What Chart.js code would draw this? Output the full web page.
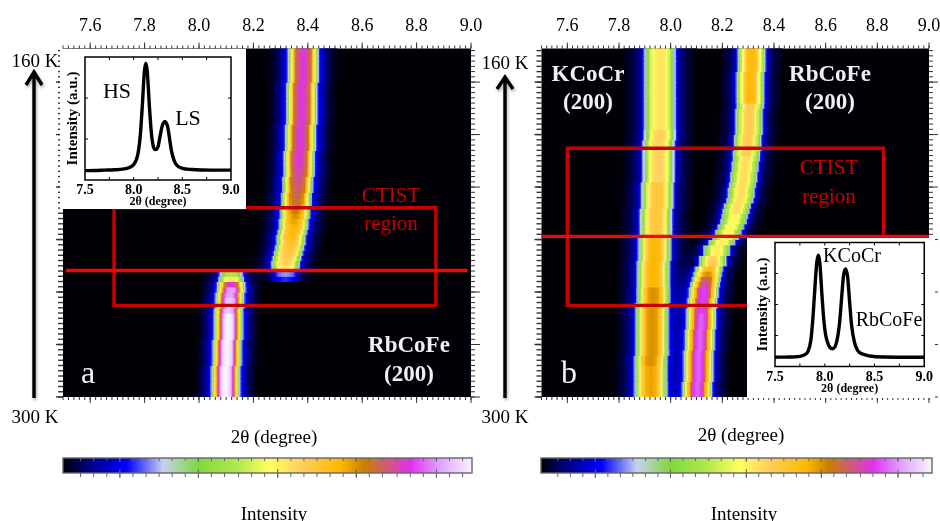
<!DOCTYPE html>
<html>
<head>
<meta charset="utf-8">
<title>RbCoFe / KCoCr (200)</title>
<script src="https://cdn.jsdelivr.net/npm/chart.js@4"></script>
<style>
html, body { margin: 0; padding: 0; background: #fff; overflow: hidden; }
#page { position: relative; width: 940px; height: 521px; overflow: hidden; filter: blur(0.45px); }
canvas { position: absolute; display: block; }
.inset { background: #fff; z-index: 2; }
svg { position: absolute; left: 0; top: 0; z-index: 3; }
.t { position: absolute; transform: translate(-50%, -50%); white-space: nowrap; z-index: 4; line-height: 1;
     font-family: "Liberation Serif", serif; color: #000; }
.w { color: #f4f4f4; }
.wb { color: #f0f0f0; font-weight: bold; font-size: 23px; }
.r { color: #c80000; font-size: 21px; }
.k { font-size: 19px; }
</style>
</head>
<body>
<div id="page">
  <canvas id="panelA" class="heat" width="500" height="521" style="left:0;top:0"></canvas>
  <canvas id="panelB" class="heat" width="460" height="521" style="left:500px;top:0"></canvas>
  <canvas id="insetA" class="inset" width="186" height="160" style="left:60px;top:49px"></canvas>
  <canvas id="insetB" class="inset" width="188" height="160" style="left:747px;top:237.5px"></canvas>
  <canvas id="barA" width="500" height="40" style="left:0;top:448px"></canvas>
  <canvas id="barB" width="440" height="40" style="left:500px;top:448px"></canvas>

  <svg width="940" height="521" fill="none" stroke="#000" stroke-width="3.4" style="filter:drop-shadow(1px 2px 1.5px rgba(0,0,0,.35))">
    <path d="M34 398V72M26 85L34 72L42 85"/>
    <path d="M505 398V77M497 89L505 77L513 89"/>
  </svg>

  <div class="t k" style="left:35px;top:60px">160 K</div>
  <div class="t k" style="left:35px;top:416px">300 K</div>
  <div class="t k" style="left:505px;top:62px">160 K</div>
  <div class="t k" style="left:505px;top:416px">300 K</div>
  <div class="t k" style="left:274px;top:436px">2θ (degree)</div>
  <div class="t k" style="left:741px;top:434px">2θ (degree)</div>
  <div class="t k" style="left:274px;top:513px">Intensity</div>
  <div class="t k" style="left:744px;top:513px">Intensity</div>

  <div class="t w" style="left:88px;top:372px;font-size:32px">a</div>
  <div class="t w" style="left:569px;top:372px;font-size:32px">b</div>
  <div class="t wb" style="left:409px;top:344px">RbCoFe</div>
  <div class="t wb" style="left:409px;top:373px">(200)</div>
  <div class="t wb" style="left:588px;top:73px">KCoCr</div>
  <div class="t wb" style="left:588px;top:101px">(200)</div>
  <div class="t wb" style="left:830px;top:73px">RbCoFe</div>
  <div class="t wb" style="left:830px;top:101px">(200)</div>
  <div class="t r" style="left:391px;top:195px">CTIST</div>
  <div class="t r" style="left:391px;top:223px">region</div>
  <div class="t r" style="left:829px;top:167px">CTIST</div>
  <div class="t r" style="left:829px;top:196px">region</div>

  <div class="t" style="left:117px;top:91px;font-size:22px">HS</div>
  <div class="t" style="left:188px;top:118px;font-size:22px">LS</div>
  <div class="t" style="left:852px;top:255px;font-size:20px">KCoCr</div>
  <div class="t" style="left:889px;top:319px;font-size:20px">RbCoFe</div>
</div>

<script>
const serif = '"Liberation Serif", serif';

// top axis of the two maps
const thetaLabels = [7.6, 7.8, 8.0, 8.2, 8.4, 8.6, 8.8, 9.0];

// scan rows count up from the 300 K end, one row per scan
const rowTop = 66.4;
const binWidth = 0.005;

// intensity against distance from the peak, one entry per bin
const lineShape = [1, .995, .985, .97, .93, .86, .76, .66, .56, .42, .29, .20, .15, .12, .095, .075, .06, .05, .04, .03, .02, .012, .006];

// panel a, LS branch, rows 0..23
const aLowCenters = [8.100, 8.100, 8.100, 8.102, 8.102, 8.102, 8.104, 8.104, 8.105, 8.106, 8.106, 8.108,
  8.108, 8.110, 8.110, 8.112, 8.112, 8.114, 8.115, 8.116, 8.118, 8.118, 8.120, 8.120];
const aLowLevels = [1, 1, 1, 1, 1, 1, 1, 1, 1, 1, 1, 1, 1, 1, 1, 1, .96, .96, .96, .93, .93, .84, .55, .42];

// panel a, HS branch, rows 22..66
const aHighFirstRow = 22;
const aHighCenters = [8.318, 8.318, 8.318, 8.322, 8.326, 8.330, 8.335, 8.338, 8.342, 8.345, 8.348, 8.351, 8.354,
  8.356, 8.358, 8.360, 8.362, 8.364, 8.366, 8.367, 8.368, 8.369, 8.370, 8.371, 8.372, 8.373, 8.374, 8.375, 8.376,
  8.377, 8.378, 8.379, 8.380, 8.380, 8.381, 8.381, 8.382, 8.382, 8.383, 8.383, 8.384, 8.384, 8.384, 8.385, 8.385];
const aHighLevels = [.17, .22, .55, .58, .60, .62, .63, .64, .66, .67, .68, .70, .72, .74, .76, .77, .78, .79, .80,
  .81, .82, .83, .84, .84, .84, .84, .84, .84, .84, .84, .84, .84, .84, .84, .84, .84, .84, .84, .84, .84, .84, .84, .84, .84, .84];

// panel b, KCoCr peak, rows 0..66
const bKCenters = [7.924, 7.924, 7.925, 7.925, 7.926, 7.926, 7.927, 7.927, 7.928, 7.928,
  7.929, 7.929, 7.930, 7.930, 7.931, 7.931, 7.932, 7.932, 7.933, 7.933,
  7.934, 7.934, 7.935, 7.935, 7.936, 7.937, 7.938, 7.939, 7.940, 7.941,
  7.942, 7.943, 7.944, 7.945, 7.946, 7.947, 7.948, 7.949, 7.950, 7.951,
  7.952, 7.953, 7.954, 7.955, 7.955, 7.956, 7.956, 7.957, 7.957, 7.958,
  7.958, 7.958, 7.959, 7.959, 7.959, 7.959, 7.960, 7.960, 7.960, 7.960, 7.960, 7.960, 7.960, 7.960, 7.960, 7.960, 7.960];
const bKLevels = [.70, .70, .70, .70, .70, .70, .72, .72, .72, .72, .72, .72, .72, .72, .72, .72, .72, .72, .72, .72, .72,
  .68, .68, .68, .68, .68, .68, .68, .68, .68, .68,
  .62, .62, .62, .62, .62, .62, .62, .62, .62, .62,
  .58, .58, .58, .58, .58, .58, .58, .58, .58, .58,
  .55, .55, .55, .55, .55, .55, .55, .55, .55, .55, .55, .55, .55, .55, .55, .55];

// panel b, RbCoFe peak, rows 0..66
const bRbCenters = [8.106, 8.106, 8.107, 8.108, 8.109, 8.110, 8.110, 8.111, 8.112, 8.113,
  8.114, 8.115, 8.116, 8.118, 8.119, 8.121, 8.122, 8.124, 8.126, 8.128,
  8.131, 8.134, 8.138, 8.144, 8.152, 8.163, 8.163, 8.178, 8.178, 8.200,
  8.215, 8.225, 8.235, 8.243, 8.250, 8.256, 8.262, 8.268, 8.273, 8.277,
  8.281, 8.284, 8.287, 8.290, 8.292, 8.294, 8.296, 8.298, 8.300, 8.302,
  8.303, 8.304, 8.305, 8.306, 8.307, 8.308, 8.309, 8.310, 8.310, 8.311, 8.312, 8.312, 8.313, 8.313, 8.314, 8.314, 8.314];
const bRbLevels = [.88, .88, .88, .88, .88, .88, .88, .88, .88, .88, .88, .88, .88, .88, .88, .88,
  .86, .86, .86, .86, .86, .82, .78, .72, .66, .60, .58, .54, .54, .54,
  .52, .52, .52, .52, .52, .56, .56, .56, .56, .56, .56, .56, .56, .56, .56, .56,
  .60, .60, .60, .60, .60, .60, .60, .60, .60, .60,
  .67, .67, .67, .67, .67, .67, .67, .67, .67, .67, .67];

// inset curves
const insetAx = [7.5, 7.6, 7.7, 7.8, 7.9, 7.95, 8.0, 8.03, 8.05, 8.07, 8.09, 8.11, 8.125, 8.14, 8.16, 8.18, 8.20, 8.225,
  8.25, 8.27, 8.29, 8.32, 8.35, 8.37, 8.39, 8.42, 8.45, 8.5, 8.6, 8.8, 9.0];
const insetAy = [.076, .077, .08, .083, .09, .10, .125, .17, .24, .38, .62, .88, .95, .88, .62, .40, .28, .247,
  .27, .35, .43, .477, .43, .33, .23, .15, .115, .095, .085, .08, .08];
const insetBx = [7.5, 7.6, 7.7, 7.75, 7.8, 7.83, 7.86, 7.88, 7.9, 7.92, 7.936, 7.95, 7.97, 7.99, 8.01, 8.04, 8.08,
  8.12, 8.15, 8.17, 8.19, 8.21, 8.23, 8.25, 8.27, 8.3, 8.33, 8.38, 8.45, 8.6, 9.0];
const insetBy = [.075, .076, .078, .082, .095, .12, .21, .38, .62, .84, .897, .84, .60, .38, .25, .17, .143,
  .20, .36, .56, .74, .787, .72, .52, .33, .19, .13, .10, .085, .077, .075];
const insetTicks = [7.5, 8.0, 8.5, 9.0];

// colour scale
const mapStops = [0, .07, .155, .245, .33, .43, .506, .58, .678, .735, .796, .849, .92, 1];
const mapColors = ['#000008', '#00008c', '#0000ff', '#c8d0f0', '#80d840', '#b4e850', '#ffff60', '#ffd060', '#ffb800',
  '#c88000', '#d05880', '#e030f0', '#e0a0ff', '#faf4ff'];
const barMajor = [.139, .331, .525, .717, .913];

function hexRgb(h) {
  return [1, 3, 5].map(i => parseInt(h.substr(i, 2), 16));
}

function mapColor(v) {
  if (v >= 1) return mapColors[mapColors.length - 1];
  let i = 0;
  while (i < mapStops.length - 2 && v > mapStops[i + 1]) i++;
  const f = (v - mapStops[i]) / (mapStops[i + 1] - mapStops[i]);
  const a = hexRgb(mapColors[i]), b = hexRgb(mapColors[i + 1]);
  return 'rgb(' + a.map((c, k) => Math.round(c + (b[k] - c) * f)).join(',') + ')';
}

// tick positions only
function steps(from, to, by) {
  const out = [];
  for (let v = from; v <= to + by / 10; v += by) out.push(+v.toFixed(4));
  return out;
}

// build the cell table of one map from its peaks, wide = how much broader the peak reads than lineShape
function heatCells(peaks) {
  const cells = new Map();
  peaks.forEach(p => {
    const reach = Math.floor((lineShape.length - 1) * p.wide);
    p.centers.forEach((c, k) => {
      const row = p.first + k;
      const col = Math.round(c / binWidth);
      for (let d = -reach; d <= reach; d++) {
        const s = lineShape[Math.round(Math.abs(d) / p.wide)];
        const key = row + ':' + (col + d);
        const old = cells.get(key);
        const v = p.levels[k] * s + (old ? old.v : 0);
        cells.set(key, { x: +((col + d) * binWidth).toFixed(3), y: [row, row + 1], v: Math.min(v, 1) });
      }
    });
  });
  return [...cells.values()];
}

function closedBox(x0, x1, y0, y1) {
  return [{ x: x0, y: y0 }, { x: x1, y: y0 }, { x: x1, y: y1 }, { x: x0, y: y1 }, { x: x0, y: y0 }];
}

// short tick marks, the outline and the black map ground
const axisMarks = {
  id: 'axisMarks',
  beforeDatasetsDraw(chart, args, opts) {
    if (!opts.ground) return;
    const a = chart.chartArea;
    chart.ctx.fillStyle = opts.ground;
    chart.ctx.fillRect(a.left, a.top, a.right - a.left, a.bottom - a.top);
  },
  afterDraw(chart, args, opts) {
    const c = chart.ctx, a = chart.chartArea;
    c.save();
    c.strokeStyle = opts.color || '#333';
    (opts.marks || []).forEach(m => {
      c.lineWidth = m.width || 1;
      const scale = chart.scales[m.scale];
      m.values.forEach(v => {
        const p = scale.getPixelForValue(v);
        c.beginPath();
        if (m.side === 'top') { c.moveTo(p, a.top); c.lineTo(p, a.top - m.len); }
        if (m.side === 'bottom') { c.moveTo(p, a.bottom); c.lineTo(p, a.bottom + m.len); }
        if (m.side === 'left') { c.moveTo(a.left, p); c.lineTo(a.left - m.len, p); }
        if (m.side === 'right') { c.moveTo(a.right, p); c.lineTo(a.right + m.len, p); }
        c.stroke();
      });
    });
    if (opts.outline) {
      c.lineWidth = opts.outline;
      c.strokeRect(a.left, a.top, a.right - a.left, a.bottom - a.top);
    }
    c.restore();
  }
};
Chart.register(axisMarks);
Chart.defaults.font.family = serif;
Chart.defaults.color = '#000';

function mapChart(id, cells, boxPts, linePts, padRight, padLeft) {
  const xMinor = steps(7.5, 9, 0.02), xMajor = steps(7.6, 9, 0.2);
  const yMinor = steps(0, 66, 1), yMajor = steps(0, 60, 10);
  return new Chart(document.getElementById(id), {
    type: 'bar',
    data: {
      datasets: [
        { type: 'line', data: linePts, borderColor: '#f40606', borderWidth: 3.4, pointRadius: 0, order: 0, clip: false },
        { type: 'line', data: boxPts, borderColor: '#c80000', borderWidth: 3.4, pointRadius: 0, order: 1, clip: false,
          borderCapStyle: 'square', borderJoinStyle: 'miter' },
        { data: cells, order: 2, barPercentage: 1, categoryPercentage: 1, inflateAmount: 0.5, borderWidth: 0,
          backgroundColor: c => mapColor(c.raw ? c.raw.v : 0) }
      ]
    },
    options: {
      responsive: false,
      animation: false,
      events: [],
      layout: { padding: { left: padLeft, right: padRight, bottom: 124, top: 0 } },
      scales: {
        x: {
          type: 'linear', position: 'top', min: 7.5, max: 9, offset: false,
          grid: { display: false, offset: false, drawTicks: false },
          border: { display: false },
          afterFit: s => { s.height = 48.5; },
          afterBuildTicks: s => { s.ticks = thetaLabels.map(v => ({ value: v })); },
          ticks: { padding: 11.5, autoSkip: false, maxRotation: 0, font: { size: 18 }, callback: v => v.toFixed(1) }
        },
        y: { type: 'linear', min: 0, max: rowTop, display: false }
      },
      plugins: {
        legend: { display: false },
        tooltip: { enabled: false },
        axisMarks: {
          ground: '#000006',
          color: '#333',
          marks: [
            { scale: 'x', side: 'top', values: xMinor, len: 3 },
            { scale: 'x', side: 'top', values: xMajor, len: 6 },
            { scale: 'x', side: 'bottom', values: xMinor, len: 3 },
            { scale: 'x', side: 'bottom', values: xMajor, len: 6 },
            { scale: 'y', side: 'left', values: yMinor, len: 5, width: 1.4 },
            { scale: 'y', side: 'left', values: yMajor, len: 7, width: 1.4 },
            { scale: 'y', side: 'right', values: yMinor, len: 4 },
            { scale: 'y', side: 'right', values: yMajor, len: 9 }
          ]
        }
      }
    }
  });
}

function insetChart(id, xs, ys, pad, xHeight, yWidth, yTitlePad, xTitlePad, yMarks) {
  const xMarks = [7.75, 8.0, 8.25, 8.5, 8.75];
  return new Chart(document.getElementById(id), {
    type: 'line',
    data: {
      datasets: [{
        data: xs.map((x, i) => ({ x: x, y: ys[i] })),
        borderColor: '#000', borderWidth: 3.4, pointRadius: 0, cubicInterpolationMode: 'monotone'
      }]
    },
    options: {
      responsive: false,
      animation: false,
      events: [],
      layout: { padding: pad },
      scales: {
        x: {
          type: 'linear', min: 7.5, max: 9,
          grid: { display: false, drawTicks: false }, border: { display: false },
          afterFit: s => { s.height = xHeight; },
          afterBuildTicks: s => { s.ticks = insetTicks.map(v => ({ value: v })); },
          ticks: { padding: 2, autoSkip: false, maxRotation: 0, font: { size: 14, weight: 'bold' }, callback: v => v.toFixed(1) },
          title: { display: true, text: '2θ (degree)', padding: { top: 0, bottom: xTitlePad }, font: { size: 12, weight: 'bold' } }
        },
        y: {
          type: 'linear', min: 0, max: 1,
          grid: { display: false, drawTicks: false }, border: { display: false },
          afterFit: s => { s.width = yWidth; },
          ticks: { display: false },
          title: { display: true, text: 'Intensity (a.u.)', padding: { top: yTitlePad, bottom: 0 }, font: { size: 15, weight: 'bold' } }
        }
      },
      plugins: {
        legend: { display: false },
        tooltip: { enabled: false },
        axisMarks: {
          color: '#000',
          outline: 1.5,
          marks: [
            { scale: 'x', side: 'bottom', values: xMarks, len: -3 },
            { scale: 'x', side: 'top', values: xMarks, len: -3 },
            { scale: 'y', side: 'left', values: yMarks, len: -3 },
            { scale: 'y', side: 'right', values: yMarks, len: -3 }
          ]
        }
      }
    }
  });
}

function colourBar(id, padLeft, padRight) {
  const minor = [];
  barMajor.forEach(v => { for (let k = -3; k < 3; k++) { const m = v + k * 0.032; if (m > 0 && m < 1) minor.push(m); } });
  return new Chart(document.getElementById(id), {
    type: 'bar',
    data: {
      labels: ['Intensity'],
      datasets: [{
        data: [[0, 1]], barPercentage: 1, categoryPercentage: 1, borderWidth: 0,
        backgroundColor: c => {
          const a = c.chart.chartArea;
          if (!a) return '#000';
          const g = c.chart.ctx.createLinearGradient(a.left, 0, a.right, 0);
          mapStops.forEach((s, i) => g.addColorStop(s, mapColors[i]));
          return g;
        }
      }]
    },
    options: {
      indexAxis: 'y',
      responsive: false,
      animation: false,
      events: [],
      layout: { padding: { left: padLeft, right: padRight, top: 10, bottom: 15 } },
      scales: {
        x: { type: 'linear', min: 0, max: 1, display: false },
        y: { display: false }
      },
      plugins: {
        legend: { display: false },
        tooltip: { enabled: false },
        axisMarks: {
          color: '#666',
          outline: 1.4,
          marks: [
            { scale: 'x', side: 'bottom', values: minor, len: 4 },
            { scale: 'x', side: 'top', values: minor, len: -3 },
            { scale: 'x', side: 'bottom', values: barMajor, len: 5 },
            { scale: 'x', side: 'bottom', values: barMajor, len: -4 },
            { scale: 'x', side: 'top', values: barMajor, len: -4 }
          ]
        }
      }
    }
  });
}

mapChart('panelA',
  heatCells([
    { first: 0, centers: aLowCenters, levels: aLowLevels, wide: 1 },
    { first: aHighFirstRow, centers: aHighCenters, levels: aHighLevels, wide: 1.12 }
  ]),
  closedBox(7.6875, 8.871, 36.05, 17.46),
  [{ x: 7.511, y: 24.1 }, { x: 8.987, y: 24.1 }],
  29, 63);

mapChart('panelB',
  heatCells([
    { first: 0, centers: bKCenters, levels: bKLevels, wide: 1.28 },
    { first: 0, centers: bRbCenters, levels: bRbLevels, wide: 1.08 }
  ]),
  closedBox(7.6, 8.824, 47.4, 17.46),
  [{ x: 7.5, y: 30.6 }, { x: 9.0, y: 30.6 }],
  31, 41.5);

insetChart('insetA', insetAx, insetAy, { top: 8, right: 15, left: 0, bottom: 0 }, 29, 25, 4, 0, [1 / 3, 2 / 3]);
insetChart('insetB', insetBx, insetBy, { top: 4.5, right: 10, left: 0, bottom: 0 }, 31.5, 28, 7, 2, [.25, .5, .75]);

colourBar('barA', 63, 28);
colourBar('barB', 41, 8);
</script>
</body>
</html>
